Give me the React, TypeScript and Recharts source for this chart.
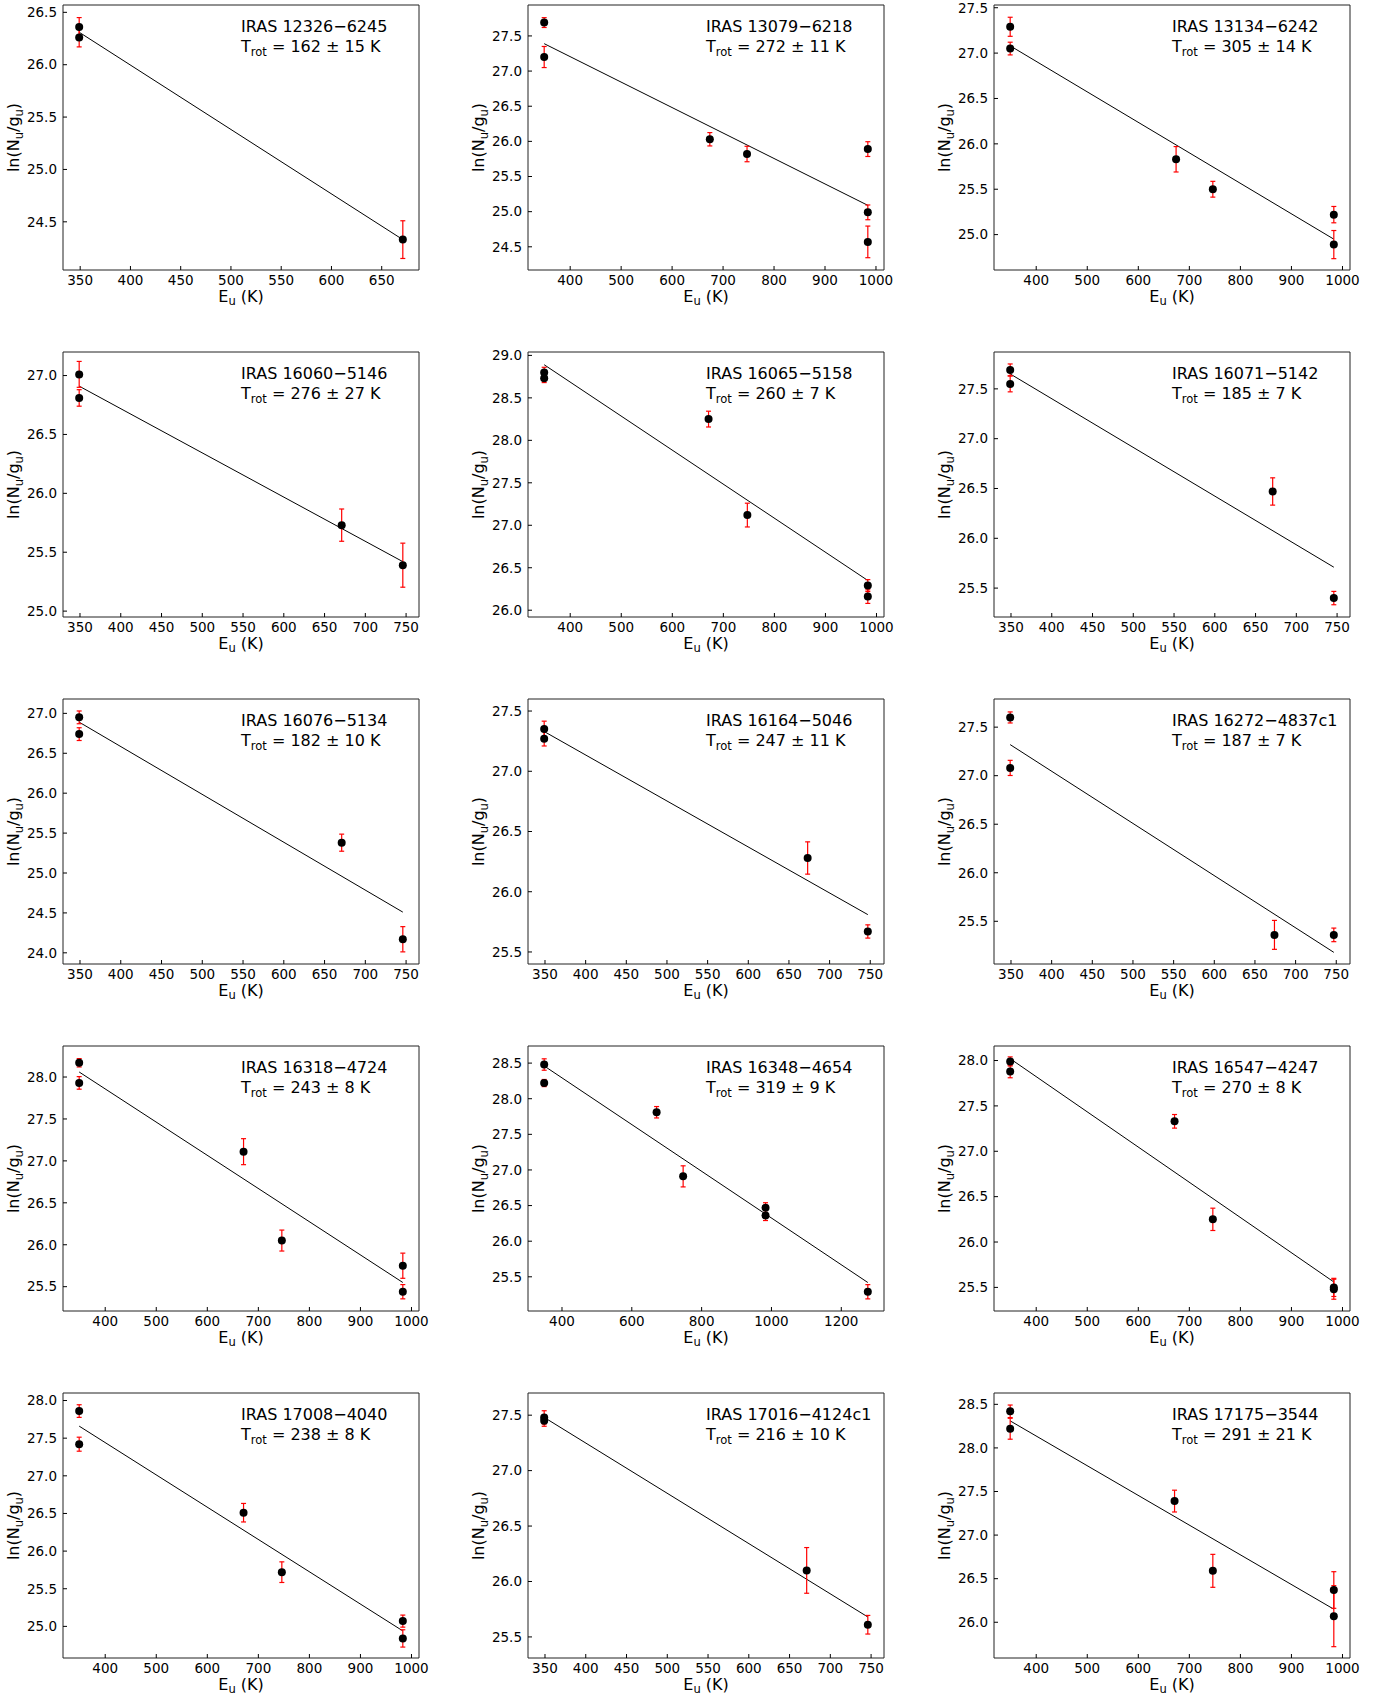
import React from 'react'
import {
  ScatterChart,
  Scatter,
  XAxis,
  YAxis,
  ErrorBar,
  ReferenceLine,
  ReferenceArea
} from 'recharts'

const FONT = '"DejaVu Sans", sans-serif'

// source names, in reading order (3 per row)
const sources = [
  'IRAS 12326−6245',
  'IRAS 13079−6218',
  'IRAS 13134−6242',
  'IRAS 16060−5146',
  'IRAS 16065−5158',
  'IRAS 16071−5142',
  'IRAS 16076−5134',
  'IRAS 16164−5046',
  'IRAS 16272−4837c1',
  'IRAS 16318−4724',
  'IRAS 16348−4654',
  'IRAS 16547−4247',
  'IRAS 17008−4040',
  'IRAS 17016−4124c1',
  'IRAS 17175−3544'
]

const tRot = [
  '162 ± 15', '272 ± 11', '305 ± 14',
  '276 ± 27', '260 ± 7', '185 ± 7',
  '182 ± 10', '247 ± 11', '187 ± 7',
  '243 ± 8', '319 ± 9', '270 ± 8',
  '238 ± 8', '216 ± 10', '291 ± 21'
]

// E_u (K) of each point
const euK = [
  [349, 349, 671],
  [349, 349, 674, 747, 984, 984, 984],
  [349, 349, 674, 746, 983, 983],
  [349, 349, 671, 746],
  [349, 349, 671, 747, 983, 983],
  [349, 349, 671, 746],
  [349, 349, 671, 746],
  [349, 349, 673, 747],
  [349, 349, 674, 747],
  [349, 349, 671, 746, 983, 983],
  [349, 349, 671, 747, 983, 983, 1276],
  [349, 349, 671, 746, 983, 983],
  [349, 349, 671, 746, 983, 983],
  [349, 349, 671, 746],
  [349, 349, 671, 746, 983, 983]
]

// ln(Nu/gu)
const lnNg = [
  [26.36, 26.26, 24.33],
  [27.69, 27.2, 26.03, 25.82, 25.89, 24.99, 24.57],
  [27.29, 27.05, 25.83, 25.5, 25.22, 24.89],
  [27.01, 26.81, 25.73, 25.39],
  [28.8, 28.73, 28.25, 27.12, 26.29, 26.16],
  [27.69, 27.55, 26.47, 25.4],
  [26.95, 26.74, 25.38, 24.17],
  [27.35, 27.27, 26.28, 25.67],
  [27.6, 27.08, 25.36, 25.36],
  [28.17, 27.93, 27.11, 26.05, 25.75, 25.44],
  [28.48, 28.22, 27.81, 26.91, 26.47, 26.36, 25.29],
  [27.99, 27.88, 27.33, 26.25, 25.5, 25.48],
  [27.86, 27.42, 26.51, 25.72, 25.07, 24.84],
  [27.48, 27.45, 26.1, 25.61],
  [28.42, 28.22, 27.39, 26.59, 26.37, 26.07]
]

const lnNgErr = [
  [0.09, 0.09, 0.18],
  [0.07, 0.15, 0.095, 0.11, 0.105, 0.105, 0.225],
  [0.105, 0.07, 0.14, 0.087, 0.09, 0.155],
  [0.11, 0.07, 0.137, 0.187],
  [0.06, 0.05, 0.093, 0.14, 0.07, 0.08],
  [0.06, 0.08, 0.137, 0.067],
  [0.08, 0.08, 0.107, 0.158],
  [0.066, 0.06, 0.134, 0.055],
  [0.057, 0.078, 0.149, 0.07],
  [0.05, 0.075, 0.155, 0.125, 0.15, 0.085],
  [0.08, 0.05, 0.08, 0.148, 0.07, 0.07, 0.1],
  [0.05, 0.07, 0.075, 0.123, 0.1, 0.11],
  [0.084, 0.093, 0.123, 0.137, 0.08, 0.115],
  [0.06, 0.05, 0.206, 0.084],
  [0.072, 0.12, 0.125, 0.189, 0.21, 0.35]
]

// fitted line value at lowest and highest E_u
const fitEnds = [
  [26.31, 24.33], [27.39, 25.09], [27.08, 24.95],
  [26.91, 25.42], [28.89, 26.35], [27.65, 25.71],
  [26.89, 24.51], [27.33, 25.81], [27.32, 25.18],
  [28.06, 25.55], [28.46, 25.42], [28.02, 25.56],
  [27.66, 24.94], [27.48, 25.68], [28.31, 26.15]
]

const yRanges = [
  [24.04, 26.57], [24.17, 27.94], [24.61, 27.53],
  [24.95, 27.2], [25.92, 29.04], [25.21, 27.87],
  [23.86, 27.18], [25.4, 27.6], [25.06, 27.79],
  [25.21, 28.37], [25.02, 28.74], [25.24, 28.16],
  [24.58, 28.1], [25.31, 27.7], [25.59, 28.63]
]

const yTickVals = [
  [24.5, 25, 25.5, 26, 26.5],
  [24.5, 25, 25.5, 26, 26.5, 27, 27.5],
  [25, 25.5, 26, 26.5, 27, 27.5],
  [25, 25.5, 26, 26.5, 27],
  [26, 26.5, 27, 27.5, 28, 28.5, 29],
  [25.5, 26, 26.5, 27, 27.5],
  [24, 24.5, 25, 25.5, 26, 26.5, 27],
  [25.5, 26, 26.5, 27, 27.5],
  [25.5, 26, 26.5, 27, 27.5],
  [25.5, 26, 26.5, 27, 27.5, 28],
  [25.5, 26, 26.5, 27, 27.5, 28, 28.5],
  [25.5, 26, 26.5, 27, 27.5, 28],
  [25, 25.5, 26, 26.5, 27, 27.5, 28],
  [25.5, 26, 26.5, 27, 27.5],
  [26, 26.5, 27, 27.5, 28, 28.5]
]

const ticks50 = [350, 400, 450, 500, 550, 600, 650, 700, 750]
const ticks100 = [400, 500, 600, 700, 800, 900, 1000]
const xTickVals = [
  [350, 400, 450, 500, 550, 600, 650], ticks100, ticks100,
  ticks50, ticks100, ticks50,
  ticks50, ticks50, ticks50,
  ticks100, [400, 600, 800, 1000, 1200], ticks100,
  ticks100, ticks50, ticks100
]

const COL_X = [0, 465, 931]
const ROW_Y = [0, 347, 694, 1041, 1388]
const CHART_W = 450
const CHART_H = 330
const AXIS_W = 63
const PLOT_W = 356
const PLOT_H = 265
const TOP = 5

const Dot = (props: any) => <circle cx={props.cx} cy={props.cy} r={4} fill="#000" />

function Panel({ i }: { i: number }) {
  const xs = euK[i]
  const data = xs.map((x, k) => ({ x, y: lnNg[i][k], err: lnNgErr[i][k] }))
  const x0 = Math.min(...xs)
  const x1 = Math.max(...xs)
  const pad = (x1 - x0) * 0.05
  const xDomain = [x0 - pad, x1 + pad]
  const [y0, y1] = yRanges[i]
  const mid = AXIS_W + PLOT_W / 2
  const tickStyle = { fill: '#000', fontSize: 13.5, fontFamily: FONT }

  return (
    <div
      style={{
        position: 'absolute',
        left: COL_X[i % 3],
        top: ROW_Y[Math.floor(i / 3)],
        width: CHART_W,
        height: CHART_H
      }}
    >
      <ScatterChart
        width={CHART_W}
        height={CHART_H}
        margin={{ top: TOP, right: CHART_W - AXIS_W - PLOT_W, bottom: 0, left: 0 }}
      >
        <XAxis
          type="number"
          dataKey="x"
          domain={xDomain}
          ticks={xTickVals[i]}
          interval={0}
          allowDataOverflow
          axisLine={false}
          tickSize={-4}
          tickMargin={9}
          tickLine={{ stroke: '#000' }}
          tick={tickStyle}
          height={CHART_H - TOP - PLOT_H}
        />
        <YAxis
          type="number"
          dataKey="y"
          domain={[y0, y1]}
          ticks={yTickVals[i]}
          interval={0}
          allowDataOverflow
          axisLine={false}
          tickSize={-4}
          tickMargin={10}
          tickLine={{ stroke: '#000' }}
          tick={tickStyle}
          tickFormatter={(v: number) => v.toFixed(1)}
          width={AXIS_W}
        />
        <ReferenceArea
          x1={xDomain[0]}
          x2={xDomain[1]}
          y1={y0}
          y2={y1}
          fill="none"
          stroke="#222"
          strokeWidth={1}
          ifOverflow="visible"
        />
        <ReferenceLine
          segment={[
            { x: x0, y: fitEnds[i][0] },
            { x: x1, y: fitEnds[i][1] }
          ]}
          stroke="#000"
          strokeWidth={1}
          ifOverflow="visible"
        />
        <Scatter data={data} shape={Dot} isAnimationActive={false}>
          <ErrorBar dataKey="err" direction="y" width={2.5} stroke="#ff0000" strokeWidth={1.2} isAnimationActive={false} />
        </Scatter>
      </ScatterChart>
      <svg
        width={CHART_W}
        height={CHART_H}
        style={{ position: 'absolute', left: 0, top: 0, pointerEvents: 'none' }}
        fontFamily={FONT}
      >
        <text x={mid} y={31.7} fontSize={16} fill="#000">{sources[i]}</text>
        <text x={mid} y={52} fontSize={16} fill="#000">
          T<tspan dy={3.5} fontSize={11.5}>rot</tspan>
          <tspan dy={-3.5}>{` = ${tRot[i]} K`}</tspan>
        </text>
        <text x={mid} y={301.7} fontSize={16} fill="#000" textAnchor="middle">
          E<tspan dy={3.5} fontSize={11.5}>u</tspan>
          <tspan dy={-3.5}> (K)</tspan>
        </text>
        <text
          transform={`translate(19, ${TOP + PLOT_H / 2}) rotate(-90)`}
          fontSize={16}
          fill="#000"
          textAnchor="middle"
        >
          ln(N<tspan dy={3.5} fontSize={11.5}>u</tspan>
          <tspan dy={-3.5}>/g</tspan>
          <tspan dy={3.5} fontSize={11.5}>u</tspan>
          <tspan dy={-3.5}>)</tspan>
        </text>
      </svg>
    </div>
  )
}

export default function App() {
  return (
    <div
      style={{
        position: 'absolute',
        left: 0,
        top: 0,
        width: 1382,
        height: 1700,
        background: '#fff'
      }}
    >
      {sources.map((_, i) => (
        <Panel key={i} i={i} />
      ))}
    </div>
  )
}
